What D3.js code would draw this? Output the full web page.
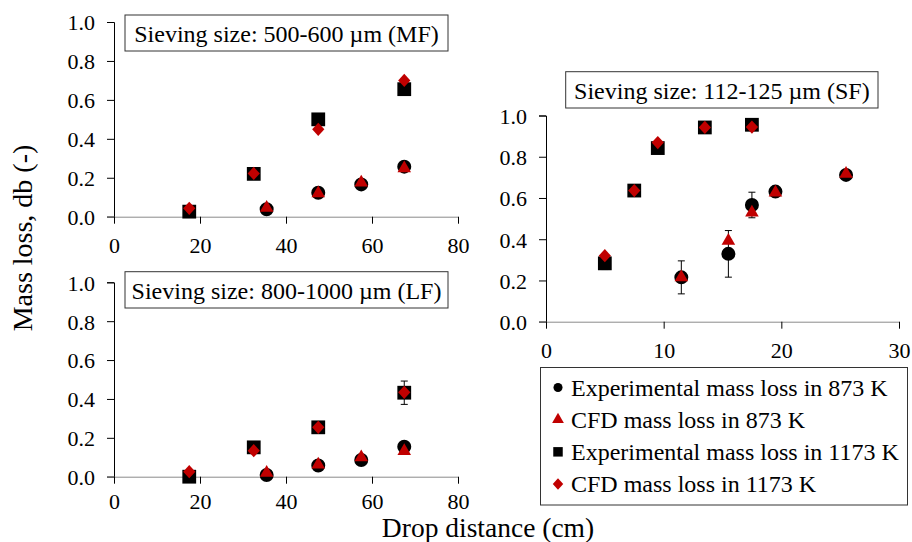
<!DOCTYPE html>
<html>
<head>
<meta charset="utf-8">
<script src="https://cdn.jsdelivr.net/npm/d3@7"></script>
<style>
  html, body { margin: 0; padding: 0; background: #fff; }
  svg { display: block; }
  svg text { font-family: "Liberation Serif", "Times New Roman", "DejaVu Serif", serif; fill: #000; }
  .tick text { font-size: 22px; }
</style>
</head>
<body>
<svg id="chart" width="912" height="542"></svg>
<script>
/* Mass loss vs drop distance — three sieving fractions, D3 scatter */

const RED = '#c00000';
const SERIF = '"Liberation Serif", "Times New Roman", serif';

// ---- MF: 500-600 µm ----
const mfX873 = [35.5, 47.5, 57.5, 67.5];
const mfExp873 = [0.038, 0.123, 0.166, 0.257];
const mfExp873Err = [0.01, 0.01, 0.01, 0.02];
const mfCfd873 = [0.045, 0.12, 0.175, 0.248];
const mfX1173 = [17.5, 32.5, 47.5, 67.5];
const mfExp1173 = [0.026, 0.22, 0.50, 0.655];
const mfExp1173Err = [0.01, 0.01, 0.03, 0.02];
const mfCfd1173 = [0.043, 0.222, 0.449, 0.70];

// ---- LF: 800-1000 µm ----
const lfX873 = [35.5, 47.5, 57.5, 67.5];
const lfExp873 = [0.009, 0.058, 0.086, 0.154];
const lfExp873Err = [0.01, 0.01, 0.01, 0.01];
const lfCfd873 = [0.02, 0.062, 0.10, 0.132];
const lfX1173 = [17.5, 32.5, 47.5, 67.5];
const lfExp1173 = [0.0, 0.151, 0.254, 0.432];
const lfExp1173Err = [0.005, 0.02, 0.01, 0.06];
const lfCfd1173 = [0.026, 0.134, 0.254, 0.434];

// ---- SF: 112-125 µm ----
const sfX873 = [11.5, 15.5, 17.5, 19.5, 25.5];
const sfExp873 = [0.215, 0.329, 0.566, 0.631, 0.712];
const sfExp873Err = [0.08, 0.113, 0.062, 0.01, 0.01];
const sfCfd873 = [0.215, 0.392, 0.529, 0.626, 0.717];
const sfX1173 = [5, 7.5, 9.5, 13.5, 17.5];
const sfExp1173 = [0.283, 0.636, 0.842, 0.942, 0.955];
const sfExp1173Err = [0.03, 0.01, 0.01, 0.01, 0.01];
const sfCfd1173 = [0.32, 0.636, 0.869, 0.942, 0.944];

const yTicks = [0, 0.2, 0.4, 0.6, 0.8, 1.0];
const leftXTicks = [0, 20, 40, 60, 80];
const rightXTicks = [0, 10, 20, 30];

const legendLabels = [
  'Experimental mass loss in 873 K',
  'CFD mass loss in 873 K',
  'Experimental mass loss in 1173 K',
  'CFD mass loss in 1173 K',
];

// ============================================================
// Marker shapes
// ============================================================

const diamond = {
  draw(ctx, size) {
    const r = Math.sqrt(size) / 2;
    ctx.moveTo(0, -r * 1.08); ctx.lineTo(r, 0); ctx.lineTo(0, r * 1.08); ctx.lineTo(-r, 0); ctx.closePath();
  }
};

// shape, fill, plot size, legend size
const SERIES_STYLE = [
  { type: d3.symbolCircle,   fill: '#000', size: 154, legendSize: 64 },
  { type: d3.symbolTriangle, fill: RED,    size: 80,  legendSize: 60 },
  { type: d3.symbolSquare,   fill: '#000', size: 190, legendSize: 90 },
  { type: diamond,           fill: RED,    size: 150, legendSize: 110 },
];

// ============================================================
// Panels
// ============================================================

const panels = [
  {
    title: 'Sieving size: 500-600 µm (MF)',
    xDomain: [0, 80], xTicks: leftXTicks, xRange: [114, 458], yRange: [216.7, 22],
    box: [125, 15, 323, 36], labelGap: 14,
    series: [
      { x: mfX873, y: mfExp873, err: mfExp873Err },
      { x: mfX873, y: mfCfd873 },
      { x: mfX1173, y: mfExp1173, err: mfExp1173Err },
      { x: mfX1173, y: mfCfd1173 },
    ],
  },
  {
    title: 'Sieving size: 800-1000 µm (LF)',
    xDomain: [0, 80], xTicks: leftXTicks, xRange: [114, 458], yRange: [476.7, 282.3],
    box: [125, 271.7, 323, 36.3], labelGap: 10,
    series: [
      { x: lfX873, y: lfExp873, err: lfExp873Err },
      { x: lfX873, y: lfCfd873 },
      { x: lfX1173, y: lfExp1173, err: lfExp1173Err },
      { x: lfX1173, y: lfCfd1173 },
    ],
  },
  {
    title: 'Sieving size: 112-125 µm (SF)',
    xDomain: [0, 30], xTicks: rightXTicks, xRange: [546, 899], yRange: [321.7, 115.5],
    box: [565.7, 71.7, 312.3, 36.3], labelGap: 14,
    series: [
      { x: sfX873, y: sfExp873, err: sfExp873Err },
      { x: sfX873, y: sfCfd873 },
      { x: sfX1173, y: sfExp1173, err: sfExp1173Err },
      { x: sfX1173, y: sfCfd1173 },
    ],
  },
];

const svg = d3.select('#chart');

function drawPanel(p) {
  const g = svg.append('g');
  const x = d3.scaleLinear().domain(p.xDomain).range(p.xRange);
  const y = d3.scaleLinear().domain([0, 1]).range(p.yRange);

  // y axis
  const yAxis = g.append('g')
    .attr('transform', `translate(${p.xRange[0]},0)`)
    .call(d3.axisLeft(y).tickValues(yTicks).tickFormat(d3.format('.1f')).tickSize(7).tickPadding(12))
    .attr('font-family', SERIF).attr('font-size', 22);
  yAxis.select('.domain').attr('stroke', '#000');
  yAxis.selectAll('.tick line').attr('stroke', '#000');
  yAxis.selectAll('.tick text').attr('dy', '0.36em').attr('font-family', SERIF);

  // x axis (grey baseline)
  const xAxis = g.append('g')
    .attr('transform', `translate(0,${p.yRange[0]})`)
    .call(d3.axisBottom(x).tickValues(p.xTicks).tickSizeInner(7).tickSizeOuter(0).tickPadding(p.labelGap))
    .attr('font-family', SERIF).attr('font-size', 22);
  xAxis.select('.domain').attr('stroke', '#8a8a8a')
    .attr('d', `M${p.xRange[0] - 7},0.5H${p.xRange[1]}`);
  xAxis.selectAll('.tick line').attr('stroke', '#000');
  xAxis.selectAll('.tick text').attr('font-family', SERIF);

  // title box
  g.append('rect')
    .attr('x', p.box[0]).attr('y', p.box[1]).attr('width', p.box[2]).attr('height', p.box[3])
    .attr('fill', '#fff').attr('stroke', '#333').attr('stroke-width', 1);
  g.append('text')
    .attr('x', p.box[0] + p.box[2] / 2).attr('y', p.box[1] + 27)
    .attr('text-anchor', 'middle').attr('font-size', 24)
    .text(p.title);

  // series
  p.series.forEach((s, i) => {
    const st = SERIES_STYLE[i];
    const pts = s.x.map((xv, k) => ({ x: xv, y: s.y[k], e: s.err ? s.err[k] : 0 }));
    const sg = g.append('g');

    if (s.err) {
      const eb = sg.selectAll('.err').data(pts.filter(d => d.e > 0)).join('g').attr('stroke', '#000').attr('stroke-width', 1);
      eb.append('line').attr('x1', d => x(d.x)).attr('x2', d => x(d.x))
        .attr('y1', d => y(d.y - d.e)).attr('y2', d => y(d.y + d.e));
      eb.append('line').attr('x1', d => x(d.x) - 3.5).attr('x2', d => x(d.x) + 3.5)
        .attr('y1', d => y(d.y - d.e)).attr('y2', d => y(d.y - d.e));
      eb.append('line').attr('x1', d => x(d.x) - 3.5).attr('x2', d => x(d.x) + 3.5)
        .attr('y1', d => y(d.y + d.e)).attr('y2', d => y(d.y + d.e));
    }

    sg.selectAll('.mark').data(pts).join('path')
      .attr('d', d3.symbol().type(st.type).size(st.size))
      .attr('transform', d => `translate(${x(d.x)},${y(d.y)})`)
      .attr('fill', st.fill);
  });
}

panels.forEach(drawPanel);

// ============================================================
// Legend
// ============================================================

const legend = svg.append('g');
legend.append('rect')
  .attr('x', 540.5).attr('y', 367.5).attr('width', 367).attr('height', 137.5)
  .attr('fill', '#fff').attr('stroke', '#333');

const rowY = d3.scalePoint().domain(d3.range(legendLabels.length)).range([387.5, 484]);
legendLabels.forEach((lab, i) => {
  const st = SERIES_STYLE[i];
  legend.append('path')
    .attr('d', d3.symbol().type(st.type).size(st.legendSize))
    .attr('transform', `translate(558,${rowY(i)})`)
    .attr('fill', st.fill);
  legend.append('text')
    .attr('x', 571).attr('y', rowY(i) + 8)
    .attr('font-size', 24)
    .text(lab);
});

// ============================================================
// Axis titles
// ============================================================

svg.append('text')
  .attr('x', 488).attr('y', 537)
  .attr('text-anchor', 'middle').attr('font-size', 27.5)
  .text('Drop distance (cm)');

svg.append('text')
  .attr('transform', 'translate(32,238) rotate(-90)')
  .attr('text-anchor', 'middle').attr('font-size', 28)
  .text('Mass loss, db (-)');
</script>
</body>
</html>
